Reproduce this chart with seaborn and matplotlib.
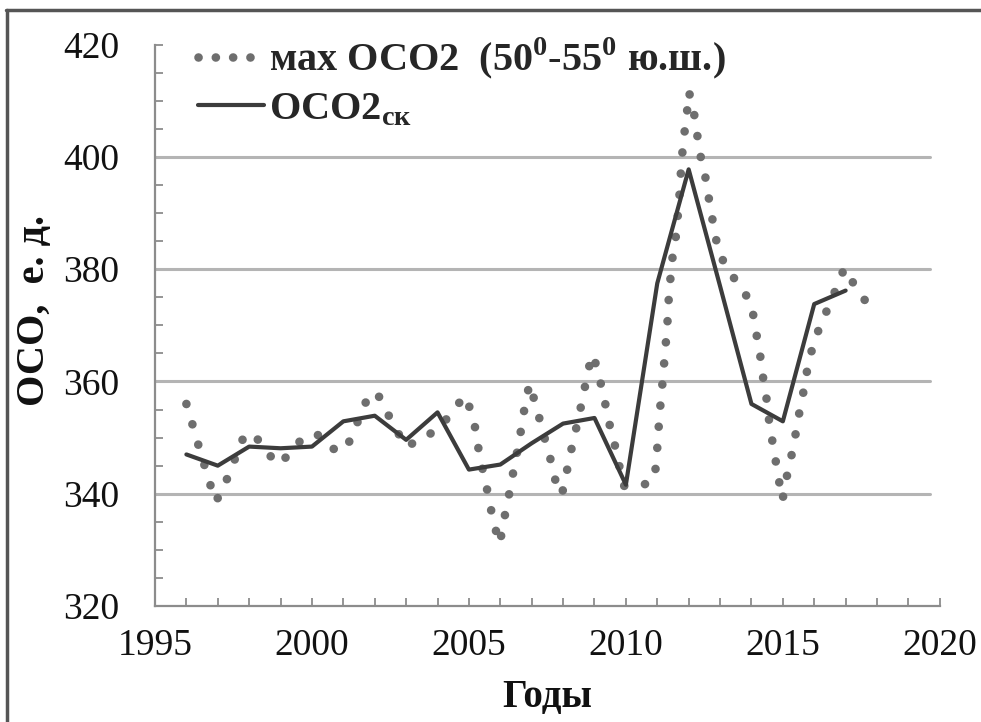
import matplotlib
matplotlib.use("Agg")
import matplotlib.pyplot as plt
from matplotlib.lines import Line2D
from matplotlib.ticker import MultipleLocator
import seaborn as sns
import pandas as pd

# Yearly mean series (solid line)
years_sk = [1996, 1997, 1998, 1999, 2000, 2001, 2002, 2003, 2004, 2005, 2006,
            2007, 2008, 2009, 2010, 2011, 2012, 2013, 2014, 2015, 2016, 2017]
oco2_sk = [347.0, 345.0, 348.4, 348.1, 348.4, 352.9, 353.9, 349.6, 354.5, 344.3, 345.2,
           349.0, 352.5, 353.5, 341.6, 377.5, 397.8, 377.0, 356.0, 352.9, 373.8, 376.2]

# Maximum for 50-55 S band (dotted line)
t_max = [1996.00, 1996.18, 1996.37, 1996.74, 1996.93, 1997.14, 1997.37, 1997.85, 1998.17,
         1998.54, 1998.94, 1999.33, 1999.74, 2000.18, 2000.66, 2001.08, 2001.32, 2001.58,
         2001.82, 2002.09, 2002.40, 2002.98, 2003.57, 2004.07, 2004.47, 2004.86, 2005.05,
         2005.21, 2005.31, 2005.45, 2005.58, 2005.71, 2005.84, 2005.98, 2006.10, 2006.21,
         2006.35, 2006.45, 2006.58, 2006.69, 2006.79, 2006.93, 2007.11, 2007.27, 2007.45,
         2007.61, 2007.77, 2007.96, 2008.09, 2008.22, 2008.36, 2008.51, 2008.64, 2008.77,
         2008.91, 2009.07, 2009.21, 2009.36, 2009.49, 2009.65, 2009.79, 2009.91, 2010.50,
         2010.92, 2010.97, 2011.03, 2011.06, 2011.13, 2011.18, 2011.24, 2011.29, 2011.34,
         2011.37, 2011.43, 2011.50, 2011.61, 2011.66, 2011.71, 2011.75, 2011.80, 2011.87,
         2011.95, 2012.01, 2012.16, 2012.26, 2012.35, 2012.51, 2012.61, 2012.72, 2012.83,
         2012.96, 2013.25, 2013.62, 2013.98, 2014.10, 2014.20, 2014.31, 2014.39, 2014.50,
         2014.57, 2014.68, 2014.78, 2014.89, 2014.99, 2015.10, 2015.24, 2015.37, 2015.47,
         2015.61, 2015.71, 2015.84, 2016.00, 2016.24, 2016.50, 2016.74, 2016.96, 2017.28,
         2017.66]
oco2_max = [356.0, 352.6, 348.9, 342.0, 338.6, 340.5, 343.7, 350.5, 350.5,
            347.5, 345.2, 347.4, 350.2, 350.5, 348.0, 347.8, 351.1, 354.4,
            357.8, 357.8, 354.4, 348.4, 349.9, 351.9, 354.5, 357.5, 355.0,
            351.5, 347.8, 344.0, 340.7, 337.0, 333.8, 331.1, 334.7, 338.2,
            341.6, 345.3, 348.5, 352.5, 355.9, 359.6, 356.2, 352.9, 349.1,
            345.9, 342.0, 339.8, 343.2, 346.8, 350.3, 353.9, 357.6, 361.0,
            364.8, 362.8, 359.4, 355.6, 352.1, 348.6, 345.0, 341.4, 341.4,
            342.6, 346.4, 349.9, 353.7, 357.3, 360.8, 364.6, 368.1, 371.7,
            375.4, 379.0, 382.9, 386.4, 390.0, 393.5, 397.1, 400.8, 404.5,
            408.2, 411.6, 408.2, 404.5, 400.8, 397.2, 393.7, 390.1, 386.5,
            383.0, 379.9, 377.1, 374.1, 370.6, 367.0, 363.6, 359.8, 356.3,
            352.6, 348.9, 345.6, 341.9, 338.9, 342.4, 345.9, 349.3, 353.0,
            356.6, 360.1, 363.9, 367.1, 370.7, 373.8, 377.2, 380.2, 377.2,
            374.1]

x_ticks = [1995, 2000, 2005, 2010, 2015, 2020]
y_ticks = [320, 340, 360, 380, 400, 420]

label_max = "мах ОСО2  (50$^{\\mathregular{0}}$-55$^{\\mathregular{0}}$ ю.ш.)"
label_sk = "ОСО2$_{\\mathregular{ск}}$"

sns.set_theme(style="white")
plt.rcParams["font.family"] = ["Liberation Serif", "DejaVu Serif"]
plt.rcParams["mathtext.fontset"] = "custom"
plt.rcParams["mathtext.rm"] = "Liberation Serif:bold"
plt.rcParams["mathtext.bf"] = "Liberation Serif:bold"

df_max = pd.DataFrame({"year": t_max, "value": oco2_max})
df_sk = pd.DataFrame({"year": years_sk, "value": oco2_sk})

fig = plt.figure(figsize=(9.81, 7.22), dpi=100)
ax = fig.add_axes([0.158, 0.1607, 0.80, 0.7773])

dot_color = "#6e6e6e"
line_color = "#3c3c3c"
dot_style = (0, (0.01, 2.45))
dot_width = 6.2

sns.lineplot(data=df_max, x="year", y="value", ax=ax, color=dot_color,
             linewidth=dot_width, linestyle=dot_style, dash_capstyle="round",
             sort=False, zorder=3)
sns.lineplot(data=df_sk, x="year", y="value", ax=ax, color=line_color,
             linewidth=3.0, sort=False, zorder=4)

ax.set_xlim(1995, 2020)
ax.set_ylim(320, 420)
ax.set_xticks(x_ticks)
ax.set_yticks(y_ticks)
ax.xaxis.set_minor_locator(MultipleLocator(1))
ax.yaxis.set_minor_locator(MultipleLocator(5))

for yv in y_ticks[1:-1]:
    ax.axhline(yv, xmin=0, xmax=0.988, color="#b4b4b4", linewidth=2.2, zorder=1)

for side in ("top", "right"):
    ax.spines[side].set_visible(False)
for side in ("left", "bottom"):
    ax.spines[side].set_color("#8c8c8c")
    ax.spines[side].set_linewidth(1.6)

ax.tick_params(axis="both", which="both", direction="in", color="#8c8c8c",
               width=1.3, length=6, left=True, bottom=True)
ax.tick_params(axis="y", which="major", pad=26, labelsize=27, labelcolor="#111111")
ax.tick_params(axis="x", which="major", pad=16, labelsize=27, labelcolor="#111111")

ax.set_xlabel("Годы", fontsize=28, fontweight="bold", color="#111111")
ax.set_ylabel("ОСО,  е. д.", fontsize=29, fontweight="bold", color="#111111")
ax.xaxis.set_label_coords(0.5, -0.13)
ax.yaxis.set_label_coords(-0.13, 0.526)

handles = [
    Line2D([], [], color=dot_color, linewidth=dot_width, linestyle=(0, (0.01, 2.0)),
           dash_capstyle="round"),
    Line2D([], [], color=line_color, linewidth=3.0),
]
leg = ax.legend(handles, [label_max, label_sk], loc="upper left",
                bbox_to_anchor=(0.034, 1.045), frameon=False,
                prop={"family": "Liberation Serif", "weight": "bold", "size": 29},
                handlelength=1.65, handletextpad=0.12, labelspacing=0.24,
                borderaxespad=0)

# outer frame along the top and left edges
fig.add_artist(Line2D([0.006, 1.0], [0.986, 0.986], transform=fig.transFigure,
                      color="#555555", linewidth=2.5))
fig.add_artist(Line2D([0.0075, 0.0075], [0.0, 0.986], transform=fig.transFigure,
                      color="#555555", linewidth=2.5))

fig.savefig("out.png", dpi=100)
